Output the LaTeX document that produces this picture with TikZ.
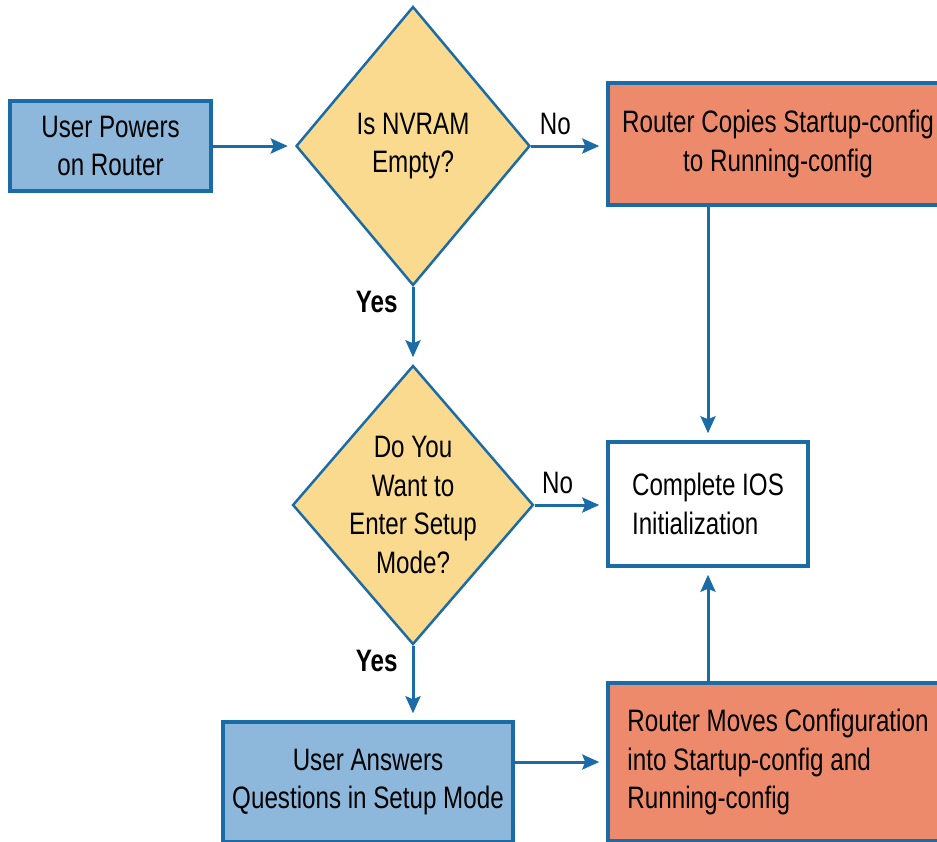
\documentclass[tikz,border=0pt]{standalone}
\usepackage{fontspec}
\setmainfont{Liberation Sans}[FakeStretch=0.78]
\usetikzlibrary{positioning, arrows.meta, shapes.geometric}

\definecolor{edgeblue}{RGB}{27,108,166}
\definecolor{boxblue}{RGB}{141,184,220}
\definecolor{askyellow}{RGB}{250,218,142}
\definecolor{routersalmon}{RGB}{238,138,108}

\begin{document}
\begin{tikzpicture}[
    x=1pt, y=-1pt,
    font=\fontsize{31}{38.5}\selectfont,
    userbox/.style={
        draw=edgeblue,
        fill=boxblue,
        line width=3.5pt,
        align=center,
        inner sep=0pt
    },
    routerbox/.style={
        draw=edgeblue,
        fill=routersalmon,
        line width=3.5pt,
        inner sep=0pt
    },
    endbox/.style={
        draw=edgeblue,
        fill=white,
        line width=3.5pt,
        align=left,
        inner sep=0pt
    },
    question/.style={
        diamond,
        draw=edgeblue,
        fill=askyellow,
        line width=2.5pt,
        align=center,
        inner sep=-6pt,
        minimum width=234pt,
        minimum height=279pt
    },
    flow/.style={
        -{Stealth[length=17pt, width=15pt, inset=3pt]},
        line width=3pt,
        draw=edgeblue,
        shorten >=7pt
    },
    answer/.style={
        font=\fontsize{31}{38.5}\selectfont,
        inner sep=2pt
    }
]

\useasboundingbox (0,0) rectangle (937,841);
\fill[white] (0,0) rectangle (937,841);
\clip (0,0) rectangle (937,841);

% --- Start and first question -------------------------------------------
\node[userbox, minimum width=201pt, minimum height=90pt] (power)
    at (110.5,146) {User Powers\\on Router};
\node[question] (nvram) at (413,146) {Is NVRAM\\Empty?};

% --- NVRAM holds a config -------------------------------------------------
\node[routerbox, align=center, minimum width=340pt, minimum height=122pt]
    (copy) at (778,144)
    {Router Copies Startup-config\\to Running-config};

% --- Second question and end state ----------------------------------------
\node[question] (setup) at (413,505)
    {Do You\\Want to\\Enter Setup\\Mode?};
\node[endbox, minimum width=200pt, minimum height=124pt] (done)
    at (708,504) {Complete IOS\\Initialization};

% --- Setup mode branch ----------------------------------------------------
\node[userbox, minimum width=290pt, minimum height=120pt] (answers)
    at (368,782) {User Answers\\Questions in Setup Mode};
\node[routerbox, align=left, minimum width=340pt, minimum height=158pt]
    (moves) at (778,762)
    {Router Moves Configuration\\into Startup-config and\\Running-config};

% --- Connectors -----------------------------------------------------------
\draw[flow] (power.east) -- (nvram.west);
\draw[flow]
    (nvram.east) --
    node[answer, pos=0.32, above=8pt] {No}
    (nvram.east -| copy.west);
\draw[flow]
    (nvram.south) --
    node[answer, font=\fontsize{31}{38.5}\selectfont\bfseries,
         pos=0.2, left=12pt] {Yes}
    (setup.north);
\draw[flow] (copy.south -| done.north) -- (done.north);
\draw[flow]
    (setup.east) --
    node[answer, pos=0.32, above=8pt] {No}
    (setup.east -| done.west);
\draw[flow]
    (setup.south) --
    node[answer, font=\fontsize{31}{38.5}\selectfont\bfseries,
         pos=0.2, left=12pt] {Yes}
    (setup.south |- answers.north);
\draw[flow] (moves.west -| answers.east) -- (moves.west);
\draw[flow] (moves.north -| done.south) -- (done.south);

\end{tikzpicture}
\end{document}
